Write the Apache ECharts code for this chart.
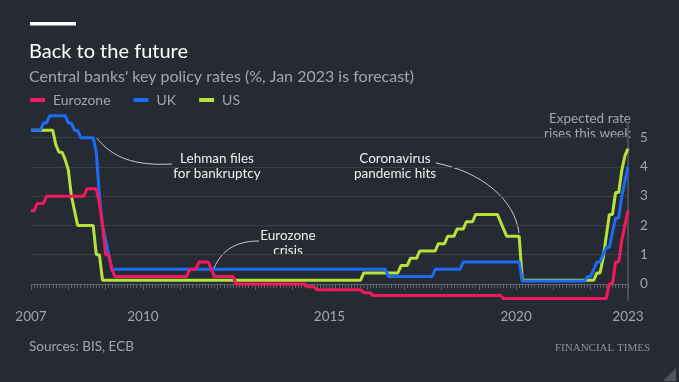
<!DOCTYPE html>
<html><head><meta charset="utf-8">
<script src="https://cdn.jsdelivr.net/npm/echarts@6/dist/echarts.min.js"></script>
<style>html,body{margin:0;padding:0;background:#262a33;}#c{width:679px;height:382px;}</style>
</head><body><div id="c"></div>
<script>
// Monthly observations, Jan 2007 .. Jan 2023 (Jan 2023 is forecast)
const startYear = 2007;
const seriesNames = ['Eurozone', 'UK', 'US'];
const xTickLabels = [2007, 2010, 2015, 2020, 2023];
const yTickLabels = [0, 1, 2, 3, 4, 5];

const eurozone = [
  2.5,2.5,2.75,2.75,2.75,3,3,3,3,3,3,3,               // 2007
  3,3,3,3,3,3,3.25,3.25,3.25,3.25,2.75,2,             // 2008
  1,1,0.5,0.25,0.25,0.25,0.25,0.25,0.25,0.25,0.25,0.25, // 2009
  0.25,0.25,0.25,0.25,0.25,0.25,0.25,0.25,0.25,0.25,0.25,0.25, // 2010
  0.25,0.25,0.25,0.5,0.5,0.5,0.75,0.75,0.75,0.75,0.5,0.25, // 2011
  0.25,0.25,0.25,0.25,0.25,0.25,0,0,0,0,0,0,          // 2012
  0,0,0,0,0,0,0,0,0,0,0,0,                            // 2013
  0,0,0,0,0,-0.1,-0.1,-0.1,-0.2,-0.2,-0.2,-0.2,       // 2014
  -0.2,-0.2,-0.2,-0.2,-0.2,-0.2,-0.2,-0.2,-0.2,-0.2,-0.2,-0.3, // 2015
  -0.3,-0.3,-0.4,-0.4,-0.4,-0.4,-0.4,-0.4,-0.4,-0.4,-0.4,-0.4, // 2016
  -0.4,-0.4,-0.4,-0.4,-0.4,-0.4,-0.4,-0.4,-0.4,-0.4,-0.4,-0.4, // 2017
  -0.4,-0.4,-0.4,-0.4,-0.4,-0.4,-0.4,-0.4,-0.4,-0.4,-0.4,-0.4, // 2018
  -0.4,-0.4,-0.4,-0.4,-0.4,-0.4,-0.4,-0.4,-0.5,-0.5,-0.5,-0.5, // 2019
  -0.5,-0.5,-0.5,-0.5,-0.5,-0.5,-0.5,-0.5,-0.5,-0.5,-0.5,-0.5, // 2020
  -0.5,-0.5,-0.5,-0.5,-0.5,-0.5,-0.5,-0.5,-0.5,-0.5,-0.5,-0.5, // 2021
  -0.5,-0.5,-0.5,-0.5,-0.5,-0.5,0,0,0.75,0.75,1.5,2,  // 2022
  2.5                                                 // Jan 2023
];
const uk = [
  5.25,5.25,5.25,5.25,5.5,5.5,5.75,5.75,5.75,5.75,5.75,5.75, // 2007
  5.5,5.5,5.25,5.25,5,5,5,5,5,4.5,3,2,                // 2008
  1.5,1,0.5,0.5,0.5,0.5,0.5,0.5,0.5,0.5,0.5,0.5,      // 2009
  0.5,0.5,0.5,0.5,0.5,0.5,0.5,0.5,0.5,0.5,0.5,0.5,    // 2010
  0.5,0.5,0.5,0.5,0.5,0.5,0.5,0.5,0.5,0.5,0.5,0.5,    // 2011
  0.5,0.5,0.5,0.5,0.5,0.5,0.5,0.5,0.5,0.5,0.5,0.5,    // 2012
  0.5,0.5,0.5,0.5,0.5,0.5,0.5,0.5,0.5,0.5,0.5,0.5,    // 2013
  0.5,0.5,0.5,0.5,0.5,0.5,0.5,0.5,0.5,0.5,0.5,0.5,    // 2014
  0.5,0.5,0.5,0.5,0.5,0.5,0.5,0.5,0.5,0.5,0.5,0.5,    // 2015
  0.5,0.5,0.5,0.5,0.5,0.5,0.5,0.25,0.25,0.25,0.25,0.25, // 2016
  0.25,0.25,0.25,0.25,0.25,0.25,0.25,0.25,0.25,0.25,0.5,0.5, // 2017
  0.5,0.5,0.5,0.5,0.5,0.5,0.5,0.75,0.75,0.75,0.75,0.75, // 2018
  0.75,0.75,0.75,0.75,0.75,0.75,0.75,0.75,0.75,0.75,0.75,0.75, // 2019
  0.75,0.75,0.1,0.1,0.1,0.1,0.1,0.1,0.1,0.1,0.1,0.1,  // 2020
  0.1,0.1,0.1,0.1,0.1,0.1,0.1,0.1,0.1,0.1,0.1,0.25,   // 2021
  0.25,0.5,0.75,0.75,1,1.25,1.25,1.75,2.25,2.25,3,3.5, // 2022
  4                                                   // Jan 2023
];
const us = [
  5.25,5.25,5.25,5.25,5.25,5.25,5.25,5.25,4.75,4.5,4.5,4.25, // 2007
  3.9,3,2.5,2,2,2,2,2,2,1,1,0.125,                    // 2008
  0.125,0.125,0.125,0.125,0.125,0.125,0.125,0.125,0.125,0.125,0.125,0.125, // 2009
  0.125,0.125,0.125,0.125,0.125,0.125,0.125,0.125,0.125,0.125,0.125,0.125, // 2010
  0.125,0.125,0.125,0.125,0.125,0.125,0.125,0.125,0.125,0.125,0.125,0.125, // 2011
  0.125,0.125,0.125,0.125,0.125,0.125,0.125,0.125,0.125,0.125,0.125,0.125, // 2012
  0.125,0.125,0.125,0.125,0.125,0.125,0.125,0.125,0.125,0.125,0.125,0.125, // 2013
  0.125,0.125,0.125,0.125,0.125,0.125,0.125,0.125,0.125,0.125,0.125,0.125, // 2014
  0.125,0.125,0.125,0.125,0.125,0.125,0.125,0.125,0.125,0.125,0.125,0.375, // 2015
  0.375,0.375,0.375,0.375,0.375,0.375,0.375,0.375,0.375,0.375,0.375,0.625, // 2016
  0.625,0.625,0.875,0.875,0.875,1.125,1.125,1.125,1.125,1.125,1.125,1.375, // 2017
  1.375,1.375,1.625,1.625,1.625,1.875,1.875,1.875,2.125,2.125,2.125,2.375, // 2018
  2.375,2.375,2.375,2.375,2.375,2.375,2.375,2.125,1.875,1.625,1.625,1.625, // 2019
  1.625,1.625,0.125,0.125,0.125,0.125,0.125,0.125,0.125,0.125,0.125,0.125, // 2020
  0.125,0.125,0.125,0.125,0.125,0.125,0.125,0.125,0.125,0.125,0.125,0.125, // 2021
  0.125,0.125,0.375,0.375,0.875,1.625,2.375,2.375,3.125,3.125,3.875,4.375, // 2022
  4.625                                               // Jan 2023
];

const colors = { Eurozone: '#f4195b', UK: '#1a6cf6', US: '#b5e23c' };
const sans = 'Lato';

function toPairs(arr) {
  return arr.map((v, i) => [startYear + i / 12, v]);
}

const chart = echarts.init(document.getElementById('c'), null, { renderer: 'canvas' });

const option = {
  backgroundColor: '#262a33',
  animation: false,
  title: [
    { text: 'Back to the future', left: 29, top: 42, padding: 0,
      textStyle: { color: '#ffffff', fontSize: 20, fontWeight: 'normal', fontFamily: sans } },
    { text: "Central banks' key policy rates (%, Jan 2023 is forecast)", left: 29, top: 69, padding: 0,
      textStyle: { color: '#a3a6ab', fontSize: 16, fontWeight: 'normal', fontFamily: sans } },
    { text: 'Sources: BIS, ECB', left: 29, top: 340, padding: 0,
      textStyle: { color: '#a3a6ab', fontSize: 13.5, fontWeight: 'normal', fontFamily: sans } },
    { text: 'FINANCIAL TIMES', right: 29, top: 343, padding: 0,
      textStyle: { color: '#8f9297', fontSize: 11, fontWeight: 'normal', fontFamily: 'Liberation Serif' } }
  ],
  legend: {
    data: seriesNames, left: 30, top: 93, padding: 0, icon: 'rect', itemWidth: 15, itemHeight: 4, itemGap: 23,
    textStyle: { color: '#a3a6ab', fontSize: 14, fontFamily: sans, padding: [0, 0, 0, 3] }
  },
  grid: { left: 31, right: 51, top: 123, bottom: 82, containLabel: false },
  xAxis: {
    type: 'value', min: 2007, max: 2023, interval: 1,
    axisLine: { show: true, lineStyle: { color: '#60636a', width: 1 } },
    axisTick: { show: true, length: 6, lineStyle: { color: '#60636a' } },
    minorTick: { show: true, splitNumber: 12, length: 4, lineStyle: { color: '#60636a' } },
    splitLine: { show: false },
    axisLabel: {
      color: '#a3a6ab', fontSize: 13.5, fontFamily: sans, margin: 10,
      formatter: v => (xTickLabels.indexOf(Math.round(v)) >= 0 ? String(Math.round(v)) : '')
    }
  },
  yAxis: {
    type: 'value', position: 'right', min: -0.55, max: 5.5,
    axisLine: { show: true, lineStyle: { color: '#4a4d55', width: 2 } },
    axisTick: { show: false, customValues: yTickLabels },
    axisLabel: { customValues: yTickLabels, color: '#a3a6ab', fontSize: 13.5, fontFamily: sans, margin: 12 },
    splitLine: { show: true, lineStyle: { color: ['#62656c', '#3a3e47', '#3a3e47', '#3a3e47', '#3a3e47', '#3a3e47'], width: 1 } }
  },
  series: [
    { name: 'US', type: 'line', data: toPairs(us), showSymbol: false, symbol: 'none', clip: false,
      lineStyle: { color: colors.US, width: 3 }, itemStyle: { color: colors.US } },
    { name: 'UK', type: 'line', data: toPairs(uk), showSymbol: false, symbol: 'none', clip: false,
      lineStyle: { color: colors.UK, width: 3 }, itemStyle: { color: colors.UK } },
    { name: 'Eurozone', type: 'line', data: toPairs(eurozone), showSymbol: false, symbol: 'none', clip: false,
      lineStyle: { color: colors.Eurozone, width: 3 }, itemStyle: { color: colors.Eurozone } }
  ],
  graphic: [
    { type: 'rect', shape: { x: 30, y: 22, width: 46, height: 3.5 }, style: { fill: '#ffffff' } },
    // Lehman
    { type: 'bezierCurve', shape: { x1: 96, y1: 137, cpx1: 112, cpy1: 158, cpx2: 135, cpy2: 166, x2: 172, y2: 164 },
      style: { stroke: '#c9cacc', lineWidth: 1, fill: null } },
    { type: 'text', style: { text: 'Lehman files\nfor bankruptcy', x: 217, y: 151, textAlign: 'center', textVerticalAlign: 'top',
      lineHeight: 15, fill: '#f0f0f0', font: '13.5px Lato' } },
    // Eurozone crisis
    { type: 'bezierCurve', shape: { x1: 214, y1: 268, cpx1: 222, cpy1: 250, cpx2: 236, cpy2: 241, x2: 259, y2: 241 },
      style: { stroke: '#c9cacc', lineWidth: 1, fill: null } },
    { type: 'text', style: { text: 'Eurozone\ncrisis', x: 288, y: 228, textAlign: 'center', textVerticalAlign: 'top',
      lineHeight: 15, fill: '#f0f0f0', font: '13.5px Lato' } },
    // Coronavirus
    { type: 'bezierCurve', shape: { x1: 436, y1: 163, cpx1: 482, cpy1: 172, cpx2: 515, cpy2: 200, x2: 519, y2: 233 },
      style: { stroke: '#c9cacc', lineWidth: 1, fill: null } },
    { type: 'text', style: { text: 'Coronavirus\npandemic hits', x: 395, y: 151, textAlign: 'center', textVerticalAlign: 'top',
      lineHeight: 15, fill: '#f0f0f0', font: '13.5px Lato' } },
    // Expected rate
    { type: 'text', style: { text: 'Expected rate\nrises this week', x: 631, y: 111, textAlign: 'right', textVerticalAlign: 'top',
      lineHeight: 15, fill: '#a3a6ab', font: '13.5px Lato' } },
    // corner mark
    { type: 'polygon', shape: { points: [[676, 368], [676, 381], [663, 381]] }, style: { fill: '#50545c' } }
  ]
};
chart.setOption(option);
</script>
</body></html>
